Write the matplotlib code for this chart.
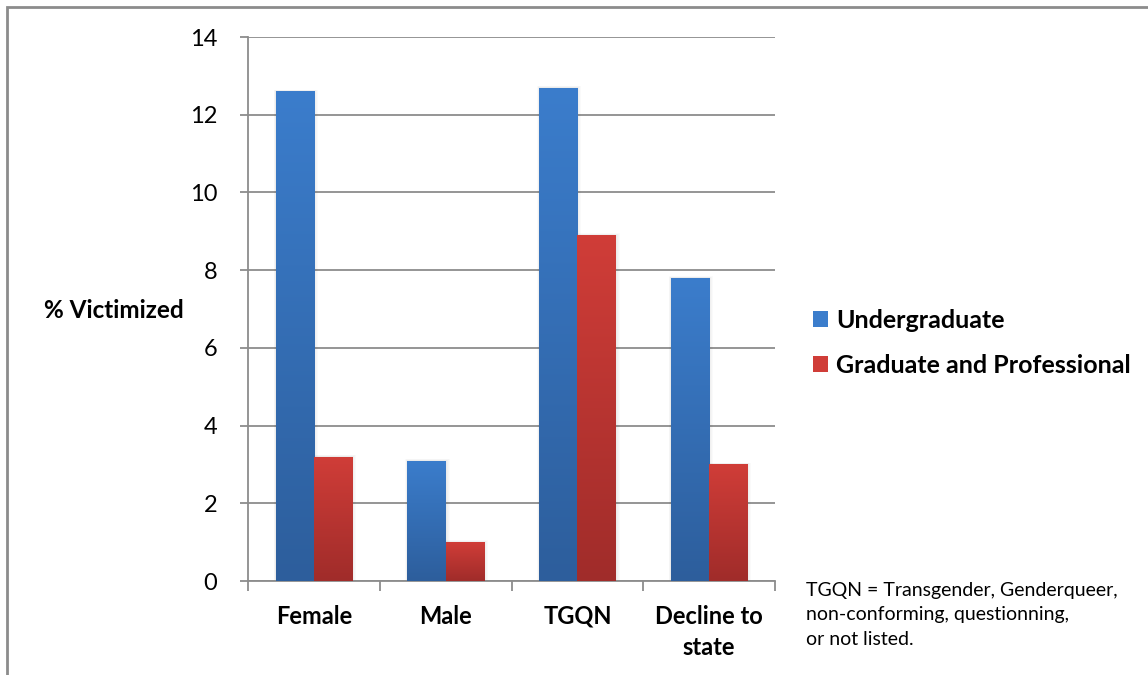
import numpy as np
import matplotlib
matplotlib.use("Agg")
import matplotlib.pyplot as plt
from matplotlib.patches import Rectangle, Patch
from matplotlib.colors import LinearSegmentedColormap

categories = ["Female", "Male", "TGQN", "Decline to\nstate"]
undergrad = [12.6, 3.1, 12.7, 7.8]
graduate = [3.2, 1.0, 8.9, 3.0]
series_names = ["Undergraduate", "Graduate and Professional"]
yticks = [0, 2, 4, 6, 8, 10, 12, 14]
note = "TGQN = Transgender, Genderqueer,\nnon-conforming, questionning,\nor not listed."

FONT = "Lato"
plt.rcParams['font.family'] = [FONT, 'DejaVu Sans']

W, H = 1148, 675
fig = plt.figure(figsize=(W / 100, H / 100), dpi=100)
fig.patch.set_facecolor("white")

# figure border (only left and top visible)
fig.add_artist(Rectangle((7 / W, -0.1), 1.2, 1.1 - 7.5 / H, transform=fig.transFigure,
                         fill=False, edgecolor="#8c8c8c", linewidth=2.0, zorder=0))

ax = fig.add_axes([248 / W, (H - 581) / H, (775 - 248) / W, (581 - 37) / H])
x = np.arange(len(categories))
bw = 0.29
off = 0.29 / 2

blue_top, blue_bot = "#3b7dcc", "#2d5e9c"
red_top, red_bot = "#d03d38", "#a02c2a"

bars_u = ax.bar(x - off, undergrad, bw, color=blue_top, zorder=3, linewidth=0)
bars_g = ax.bar(x + off, graduate, bw, color=red_top, zorder=3, linewidth=0)

px = 1.0 / 131.75  # one pixel in x data units
grad = np.linspace(1, 0, 256).reshape(-1, 1)
for bars, top, bot in [(bars_u, blue_top, blue_bot), (bars_g, red_top, red_bot)]:
    cmap = LinearSegmentedColormap.from_list("g", [bot, top])
    for b in bars:
        x0, y0 = b.get_x(), b.get_y()
        w, h = b.get_width(), b.get_height()
        # soft shadow
        for k in range(1, 5):
            ax.add_patch(Rectangle((x0 - k * px * 0.5, y0), w + k * px * 1.5, h + k * 0.012,
                                   facecolor="black", alpha=0.018, linewidth=0, zorder=2))
        im = ax.imshow(grad, cmap=cmap, extent=[x0, x0 + w, y0, y0 + h], aspect="auto",
                       zorder=3.5, interpolation="bilinear")
        im.set_clip_path(b)

ax.set_xlim(-0.5, len(categories) - 0.5)
ax.set_ylim(0, 14)
ax.set_yticks(yticks)
ax.set_yticklabels([str(t) for t in yticks], fontsize=17)
ax.set_xticks(x)
ax.set_xticklabels(categories, fontsize=17, fontweight="bold", linespacing=1.45)
ax.set_xticks(np.arange(-0.5, len(categories), 1.0), minor=True)
ax.tick_params(axis="x", which="major", length=0, pad=17)
ax.tick_params(axis="x", which="minor", length=7, width=1.3, color="#8c8c8c", direction="out")
ax.tick_params(axis="y", which="major", length=6, width=1.3, color="#8c8c8c", direction="out", pad=16)

ax.grid(axis="y", color="#8c8c8c", linewidth=1.3, zorder=1)
ax.set_axisbelow(True)
for s in ["top", "right"]:
    ax.spines[s].set_visible(False)
for s in ["left", "bottom"]:
    ax.spines[s].set_color("#8c8c8c")
    ax.spines[s].set_linewidth(1.3)

fig.text(114 / W, 1 - 310 / H, "% Victimized", fontsize=17.5, fontweight="bold",
         ha="center", va="center")

# legend
handles = [Patch(facecolor=blue_top, edgecolor="none"), Patch(facecolor=red_top, edgecolor="none")]
leg = fig.legend(handles, series_names, loc="center left", bbox_to_anchor=(790 / W, 1 - 343 / H),
                 frameon=False, prop={"family": FONT, "weight": "bold", "size": 18},
                 handlelength=0.6, handleheight=0.6, handletextpad=0.35, labelspacing=0.88)

fig.text(806 / W, 1 - 582 / H, note, fontsize=14, ha="left", va="top", linespacing=1.52)

fig.savefig("out.png", dpi=100, facecolor="white")
